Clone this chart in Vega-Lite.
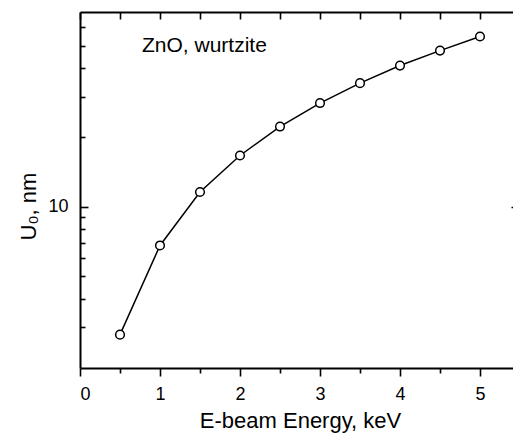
{
  "$schema": "https://vega.github.io/schema/vega-lite/v6.json",
  "width": 433,
  "height": 356,
  "autosize": {"type": "none"},
  "padding": {"left": 80, "top": 12, "right": 0, "bottom": 65},
  "background": "white",
  "config": {
    "view": {"stroke": null},
    "font": "Liberation Sans",
    "axis": {
      "grid": false,
      "domainColor": "black",
      "domainWidth": 2,
      "tickColor": "black",
      "tickWidth": 1.6,
      "labelColor": "black",
      "titleColor": "black",
      "labelFont": "Liberation Sans",
      "titleFont": "Liberation Sans",
      "titleFontWeight": "normal",
      "labelFontSize": 18,
      "titleFontSize": 22
    }
  },
  "data": {
    "values": [
      {"energy": 0.5, "u0": 2.79},
      {"energy": 1.0, "u0": 6.8},
      {"energy": 1.5, "u0": 11.6},
      {"energy": 2.0, "u0": 16.7},
      {"energy": 2.5, "u0": 22.3},
      {"energy": 3.0, "u0": 28.2},
      {"energy": 3.5, "u0": 34.4},
      {"energy": 4.0, "u0": 41.0},
      {"energy": 4.5, "u0": 47.6},
      {"energy": 5.0, "u0": 54.8}
    ]
  },
  "resolve": {"axis": {"x": "independent", "y": "independent"}},
  "layer": [
    {
      "mark": {"type": "line", "color": "black", "strokeWidth": 1.5},
      "encoding": {
        "x": {
          "field": "energy",
          "type": "quantitative",
          "scale": {"domain": [0, 5.4125], "nice": false, "zero": false},
          "axis": {
            "orient": "bottom",
            "values": [0, 0.5, 1, 1.5, 2, 2.5, 3, 3.5, 4, 4.5, 5],
            "labelExpr": "datum.value % 1 == 0 ? format(datum.value, 'd') : ''",
            "tickSize": {"condition": {"test": "datum.value % 1 == 0", "value": 8}, "value": 5},
            "labelPadding": 9,
            "title": "E-beam Energy, keV",
            "titleX": 220,
            "titleY": 59,
            "titleAlign": "center",
            "titleBaseline": "alphabetic"
          }
        },
        "y": {
          "field": "u0",
          "type": "quantitative",
          "scale": {"type": "log", "domain": [2, 70], "nice": false},
          "axis": {
            "orient": "left",
            "values": [3, 4, 5, 6, 7, 8, 9, 10, 20, 30, 40, 50, 60],
            "labelExpr": "datum.value == 10 ? '10' : ''",
            "tickSize": {"condition": {"test": "datum.value == 10", "value": -8}, "value": -5},
            "labelPadding": 20,
            "title": "U₀, nm",
            "titleX": -45,
            "titleY": 194,
            "titleAngle": -90,
            "titleAlign": "center",
            "titleBaseline": "alphabetic"
          }
        }
      }
    },
    {
      "mark": {"type": "point", "shape": "circle", "fill": "white", "stroke": "black", "strokeWidth": 1.5, "opacity": 1, "size": 75},
      "encoding": {
        "x": {
          "field": "energy",
          "type": "quantitative",
          "axis": {
            "orient": "top",
            "labels": false,
            "values": [0, 0.5, 1, 1.5, 2, 2.5, 3, 3.5, 4, 4.5, 5],
            "tickSize": -7,
            "title": null
          }
        },
        "y": {
          "field": "u0",
          "type": "quantitative",
          "axis": {
            "orient": "right",
            "labels": false,
            "domain": false,
            "values": [10],
            "tickSize": -2,
            "title": null
          }
        }
      }
    },
    {
      "data": {"values": [{"label": "ZnO, wurtzite", "x": 0.775, "y": 47}]},
      "mark": {"type": "text", "align": "left", "baseline": "alphabetic", "fontSize": 21, "font": "Liberation Sans", "color": "black"},
      "encoding": {
        "text": {"field": "label"},
        "x": {"field": "x", "type": "quantitative", "axis": null},
        "y": {"field": "y", "type": "quantitative", "axis": null}
      }
    }
  ]
}
